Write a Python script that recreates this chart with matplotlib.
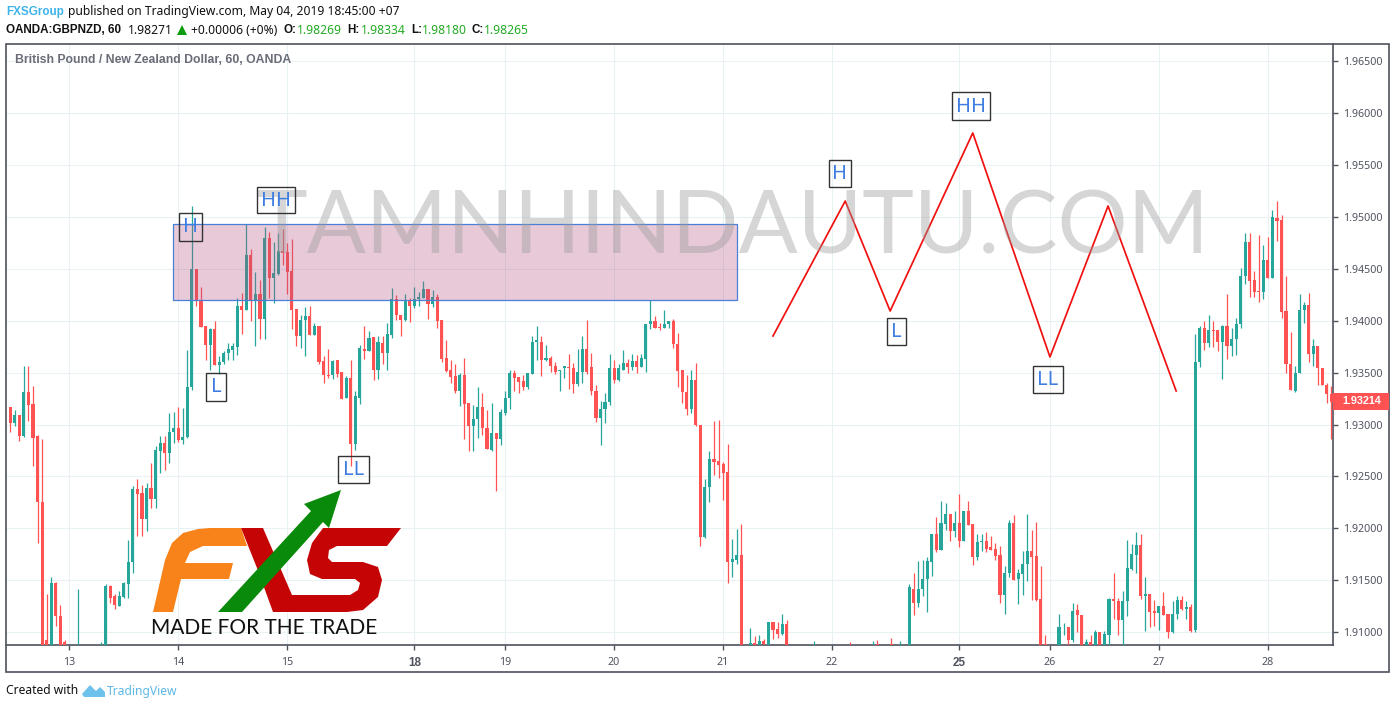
import numpy as np
import matplotlib
matplotlib.use("Agg")
import matplotlib.pyplot as plt
from matplotlib.patches import Polygon, Rectangle

N = float("nan")

# hourly candles in 1e-4 price units, NaN = bar sits under the visible range
opens = [
    19317, 19301, 19309, 19289, 19331, 19320, 19289, 19225, 19092, 19085,
    19147, 19115, 19090, N, N, 19080, N, N, N, N,
    19080, 19080, 19144, 19135, 19125, 19134, 19146, 19167, 19238, 19234,
    19209, 19239, 19228, 19274, 19282, 19273, 19293, 19297, 19285, 19288,
    19336, 19450, 19420, 19395, 19377, 19392, 19357, 19360, 19369, 19372,
    19375, 19414, 19410, 19463, 19419, 19426, 19402, 19480, 19441, 19445,
    19467, 19466, 19448, 19411, 19385, 19401, 19405, 19386, 19395, 19361,
    19348, 19348, 19362, 19351, 19326, 19345, 19281, 19326, 19373, 19371,
    19384, 19353, 19379, 19369, 19386, 19421, 19406, 19401, 19419, 19414,
    19421, 19422, 19431, 19416, 19423, 19401, 19364, 19353, 19347, 19332,
    19348, 19321, 19299, 19305, 19317, 19297, 19275, 19292, 19286, 19311,
    19326, 19350, 19346, 19342, 19336, 19349, 19380, 19380, 19362, 19364,
    19356, 19352, 19354, 19355, 19354, 19339, 19351, 19373, 19355, 19332,
    19306, 19315, 19322, 19354, 19343, 19353, 19359, 19355, 19361, 19355,
    19363, 19397, 19400, 19394, 19393, 19397, 19400, 19378, 19353, 19331,
    19315, 19343, 19300, 19192, 19240, 19267, 19265, 19262, 19254, 19167,
    19169, 19174, N, 19080, 19089, 19085, 19091, 19086, 19110, 19103,
    19098, 19108, N, N, N, N, N, 19080, N, N,
    N, N, N, N, N, 19085, N, N, N, N,
    19080, 19088, N, N, 19088, N, 19080, N, 19085, 19141,
    19128, 19141, 19151, 19167, 19194, 19179, 19204, 19214, 19197, 19205,
    19188, 19217, 19204, 19172, 19187, 19188, 19182, 19180, 19174, 19136,
    19157, 19205, 19151, 19156, 19166, 19178, 19173, 19132, 19088, N,
    N, 19080, 19105, 19105, 19092, 19121, 19116, 19085, 19090, 19082,
    19100, 19082, 19097, 19132, 19130, 19112, 19130, 19161, 19174, 19184,
    19135, 19137, 19120, 19118, 19125, 19117, 19100, 19117, 19131, 19122,
    19124, 19102, 19360, 19393, 19379, 19391, 19391, 19380, 19395, 19376,
    19382, 19397, 19443, 19476, 19439, 19429, 19428, 19459, 19441, 19499,
    19497, 19409, 19358, 19332, 19350, 19410, 19415, 19368, 19376, 19354,
    19338, 19329,
]
highs = [
    19317, 19314, 19309, 19356, 19356, 19337, 19290, 19286, 19137, 19153,
    19148, 19126, 19092, N, N, 19141, N, N, N, N,
    19090, 19146, 19145, 19137, 19140, 19148, 19189, 19241, 19247, 19242,
    19244, 19263, 19279, 19289, 19289, 19311, 19312, 19317, 19316, 19372,
    19511, 19450, 19433, 19395, 19393, 19400, 19366, 19371, 19379, 19379,
    19422, 19427, 19493, 19469, 19447, 19439, 19490, 19486, 19476, 19485,
    19488, 19475, 19479, 19411, 19406, 19413, 19414, 19398, 19395, 19366,
    19373, 19362, 19362, 19351, 19347, 19362, 19332, 19377, 19395, 19390,
    19384, 19385, 19385, 19398, 19432, 19425, 19406, 19426, 19422, 19433,
    19428, 19438, 19431, 19430, 19426, 19401, 19381, 19362, 19358, 19350,
    19364, 19321, 19319, 19336, 19330, 19314, 19321, 19292, 19315, 19332,
    19353, 19353, 19346, 19348, 19350, 19385, 19395, 19385, 19377, 19366,
    19360, 19353, 19356, 19368, 19359, 19373, 19385, 19401, 19369, 19338,
    19323, 19330, 19368, 19362, 19358, 19372, 19363, 19368, 19367, 19368,
    19397, 19420, 19405, 19398, 19410, 19400, 19402, 19388, 19353, 19348,
    19353, 19359, 19300, 19247, 19274, 19303, 19304, 19264, 19281, 19190,
    19199, 19204, N, 19104, 19096, 19097, 19093, 19110, 19110, 19110,
    19117, 19112, N, N, N, N, N, 19091, N, N,
    N, N, N, N, N, 19090, N, N, N, N,
    19091, 19092, N, N, 19094, N, 19091, N, 19146, 19157,
    19168, 19169, 19172, 19194, 19211, 19226, 19224, 19214, 19217, 19233,
    19217, 19226, 19204, 19194, 19194, 19196, 19193, 19186, 19183, 19164,
    19208, 19213, 19161, 19178, 19214, 19198, 19206, 19164, 19097, N,
    N, 19117, 19109, 19105, 19128, 19127, 19116, 19093, 19097, 19102,
    19100, 19101, 19133, 19157, 19133, 19140, 19189, 19185, 19196, 19194,
    19153, 19137, 19131, 19125, 19139, 19117, 19130, 19135, 19135, 19130,
    19127, 19387, 19395, 19400, 19406, 19400, 19391, 19396, 19426, 19393,
    19403, 19451, 19485, 19485, 19448, 19483, 19473, 19481, 19507, 19515,
    19502, 19443, 19389, 19356, 19426, 19418, 19427, 19382, 19376, 19354,
    19340, 19337,
]
lows = [
    19293, 19299, 19284, 19288, 19303, 19260, 19186, 19080, 19080, 19080,
    19106, 19080, 19080, N, N, 19070, N, N, N, N,
    19075, 19070, 19128, 19122, 19125, 19133, 19133, 19157, 19193, 19193,
    19197, 19220, 19220, 19253, 19256, 19263, 19282, 19283, 19281, 19287,
    19333, 19414, 19394, 19362, 19353, 19357, 19349, 19358, 19362, 19362,
    19367, 19387, 19410, 19400, 19376, 19382, 19382, 19422, 19417, 19444,
    19454, 19426, 19392, 19376, 19374, 19366, 19386, 19386, 19358, 19340,
    19345, 19344, 19346, 19325, 19326, 19260, 19275, 19320, 19363, 19371,
    19343, 19344, 19358, 19353, 19383, 19401, 19385, 19400, 19399, 19412,
    19414, 19422, 19402, 19413, 19393, 19360, 19351, 19340, 19330, 19318,
    19286, 19274, 19274, 19287, 19290, 19276, 19274, 19236, 19280, 19309,
    19315, 19332, 19330, 19333, 19334, 19349, 19362, 19347, 19361, 19351,
    19349, 19332, 19345, 19334, 19330, 19337, 19340, 19349, 19328, 19302,
    19280, 19301, 19319, 19340, 19342, 19353, 19350, 19353, 19350, 19355,
    19351, 19392, 19393, 19391, 19393, 19393, 19374, 19336, 19321, 19309,
    19311, 19299, 19183, 19191, 19225, 19251, 19248, 19227, 19147, 19153,
    19166, 19050, N, 19075, 19075, 19080, 19085, 19080, 19093, 19094,
    19097, 19075, N, N, N, N, N, 19075, N, N,
    N, N, N, N, N, 19075, N, N, N, N,
    19075, 19075, N, N, 19075, N, 19075, N, 19080, 19116,
    19124, 19135, 19119, 19154, 19177, 19179, 19198, 19188, 19192, 19182,
    19188, 19203, 19165, 19169, 19178, 19177, 19179, 19169, 19128, 19117,
    19153, 19150, 19127, 19136, 19149, 19131, 19130, 19075, 19075, N,
    N, 19075, 19097, 19085, 19090, 19100, 19075, 19085, 19075, 19080,
    19075, 19080, 19085, 19113, 19097, 19085, 19115, 19160, 19157, 19132,
    19101, 19105, 19106, 19102, 19116, 19094, 19099, 19113, 19121, 19113,
    19100, 19100, 19355, 19372, 19375, 19375, 19371, 19344, 19363, 19366,
    19367, 19393, 19435, 19423, 19423, 19418, 19421, 19441, 19441, 19477,
    19403, 19350, 19333, 19331, 19350, 19398, 19360, 19356, 19338, 19338,
    19321, 19286,
]
closes = [
    19301, 19309, 19289, 19331, 19319, 19287, 19225, 19085, 19085, 19147,
    19115, 19085, 19085, N, N, 19085, N, N, N, N,
    19085, 19144, 19133, 19126, 19135, 19147, 19167, 19238, 19233, 19209,
    19239, 19228, 19275, 19282, 19273, 19293, 19297, 19285, 19288, 19336,
    19450, 19419, 19394, 19377, 19392, 19357, 19360, 19369, 19373, 19376,
    19414, 19410, 19463, 19419, 19426, 19402, 19480, 19441, 19446, 19467,
    19465, 19447, 19410, 19385, 19401, 19405, 19386, 19395, 19360, 19348,
    19347, 19361, 19349, 19325, 19345, 19281, 19327, 19374, 19371, 19383,
    19353, 19380, 19369, 19387, 19421, 19406, 19401, 19419, 19414, 19421,
    19423, 19431, 19416, 19423, 19400, 19363, 19352, 19346, 19332, 19348,
    19320, 19299, 19305, 19317, 19297, 19276, 19292, 19286, 19312, 19326,
    19350, 19345, 19341, 19336, 19350, 19380, 19381, 19362, 19364, 19356,
    19351, 19353, 19356, 19354, 19339, 19351, 19373, 19351, 19332, 19306,
    19315, 19322, 19354, 19343, 19354, 19359, 19355, 19361, 19355, 19364,
    19397, 19400, 19393, 19393, 19397, 19400, 19378, 19352, 19331, 19315,
    19343, 19300, 19192, 19240, 19267, 19264, 19261, 19253, 19167, 19170,
    19174, 19060, N, 19089, 19080, 19091, 19088, 19110, 19102, 19098,
    19108, 19080, N, N, N, N, N, 19085, N, N,
    N, N, N, N, N, 19080, N, N, N, N,
    19085, 19082, N, N, 19082, N, 19085, N, 19143, 19128,
    19141, 19151, 19168, 19194, 19179, 19205, 19214, 19197, 19205, 19188,
    19217, 19203, 19172, 19187, 19188, 19180, 19179, 19173, 19136, 19157,
    19205, 19150, 19157, 19166, 19178, 19172, 19131, 19082, 19082, N,
    N, 19105, 19105, 19092, 19120, 19116, 19080, 19090, 19080, 19100,
    19082, 19098, 19132, 19130, 19112, 19130, 19162, 19175, 19184, 19135,
    19137, 19119, 19118, 19125, 19116, 19100, 19117, 19131, 19122, 19124,
    19101, 19360, 19393, 19379, 19391, 19390, 19380, 19395, 19376, 19382,
    19397, 19443, 19476, 19438, 19428, 19428, 19459, 19441, 19500, 19496,
    19408, 19358, 19333, 19350, 19410, 19415, 19368, 19376, 19354, 19338,
    19329, 19322,
]

day_bars = [13, 37, 61, 89, 109, 133, 157, 181, 209, 229, 253, 277]
day_labels = ["13", "14", "15", "18", "19", "20", "21", "22", "25", "26", "27", "28"]
week_starts = ["18", "25"]
price_ticks = [1.91, 1.915, 1.92, 1.925, 1.93, 1.935, 1.94, 1.945, 1.95, 1.955, 1.96, 1.965]
last_price = 1.93214

# zone and hand-drawn zigzag on the chart
zone_bars = [35.8, 160.1]
zone_prices = [1.9420, 1.94933]
zigzag_bars = [168.0, 183.9, 193.8, 212.0, 229.0, 241.8, 256.8]
zigzag_prices = [1.93853, 1.95154, 1.94094, 1.9581, 1.93651, 1.95106, 1.93323]

W, H = 1396, 709
UP = "#26a69a"
DOWN = "#ff5252"
GRID = "#e8f2f5"
FRAME = "#4f525c"
TICK_TEXT = "#50535e"
LABEL_BLUE = "#3f7de0"
BODY_FONT = "Noto Sans"
BOLD_FONT = "Liberation Sans"

fig = plt.figure(figsize=(W / 100, H / 100), dpi=100, facecolor="white")
ax = fig.add_axes([6 / W, 1 - 645 / H, (1333 - 6) / W, (645 - 44) / H])

o = np.array(opens) / 10000
h = np.array(highs) / 10000
l = np.array(lows) / 10000
c = np.array(closes) / 10000
x = np.arange(len(o))
colors = np.where(c >= o, UP, DOWN)

ax.vlines(x, l, h, colors=colors, lw=0.9, zorder=3)
ax.bar(x, np.abs(c - o), bottom=np.minimum(o, c), width=0.68, color=colors, lw=0, zorder=3)

ax.set_xlim((6 - 10.3) / 4.54, (1333 - 10.3) / 4.54)
ax.set_ylim(1.95 - (645 - 217) / 10375, 1.95 + (217 - 44) / 10375)
ax.set_xticks(day_bars)
ax.set_xticklabels(day_labels)
ax.set_yticks(price_ticks)
ax.set_yticklabels([f"{p:.5f}" for p in price_ticks])
ax.yaxis.tick_right()
ax.grid(True, color=GRID, lw=0.75, zorder=0)
ax.set_axisbelow(True)
ax.tick_params(axis="both", color=FRAME, length=3.5, width=1, labelcolor=TICK_TEXT, labelsize=7.7, pad=3.5)
ax.tick_params(axis="x", pad=5)
for lab in ax.get_xticklabels():
    lab.set_family(BODY_FONT)
    if lab.get_text() in week_starts:
        lab.set_family(BOLD_FONT)
        lab.set_fontweight("bold")
        lab.set_fontsize(8.4)
for lab in ax.get_yticklabels():
    lab.set_family(BODY_FONT)
for side in ["top", "left"]:
    ax.spines[side].set_visible(False)
for side in ["right", "bottom"]:
    ax.spines[side].set_color(FRAME)
    ax.spines[side].set_linewidth(1.2)

zone_w = zone_bars[1] - zone_bars[0]
zone_h = zone_prices[1] - zone_prices[0]
ax.add_patch(Rectangle((zone_bars[0], zone_prices[0]), zone_w, zone_h, facecolor="#b24f7f", alpha=0.3, lw=0, zorder=4))
ax.add_patch(Rectangle((zone_bars[0], zone_prices[0]), zone_w, zone_h, fill=False, edgecolor="#4a7fd8", lw=0.9, zorder=4))
ax.plot(zigzag_bars, zigzag_prices, color="#f01010", lw=1.25, zorder=5)

# everything else lives in picture pixels
ov = fig.add_axes([0, 0, 1, 1], zorder=5)
ov.set_xlim(0, W)
ov.set_ylim(H, 0)
ov.axis("off")
ov.patch.set_alpha(0)

ov.add_patch(Rectangle((6, 44), 1383, 628, fill=False, edgecolor=FRAME, lw=1.2))
ov.add_patch(Rectangle((1333, 393), 56, 17, facecolor=DOWN, lw=0, zorder=1))
ov.text(1342, 401.5, f"{last_price:.5f}", color="white", fontsize=7.8, fontweight="bold",
        family=BOLD_FONT, va="center", ha="left", zorder=2)

ov.text(733, 229, "TAMNHINDAUTU.COM", color="#9a9a9a", alpha=0.4, fontsize=63, family="Lato",
        va="center", ha="center", zorder=1)

ov.text(15, 60, "British Pound / New Zealand Dollar, 60, OANDA", color="#6a6d78", fontsize=8.85,
        fontweight="bold", family=BOLD_FONT, va="center")

pattern_labels = [
    ("H", 179, 213, 23, 28), ("HH", 257, 187, 38, 26), ("L", 206, 373, 20, 28), ("LL", 338, 456, 31, 27),
    ("H", 829, 160, 22, 27), ("HH", 952, 92, 38, 28), ("L", 887, 318, 19, 27), ("LL", 1033, 366, 30, 27),
]
for text, left, top, bw, bh in pattern_labels:
    ov.add_patch(Rectangle((left, top), bw, bh, fill=False, edgecolor="#333333", lw=1, zorder=3))
    ov.text(left + bw / 2, top + bh / 2 + 0.5, text, color=LABEL_BLUE, fontsize=14.5, family=BODY_FONT,
            va="center", ha="center", zorder=3)


# header lines
def put(px, py, text, color="#111111", weight="normal"):
    family = BOLD_FONT if weight == "bold" else BODY_FONT
    size = 8.4 if weight == "bold" else 8.7
    ov.text(px, py, text, color=color, fontweight=weight, fontsize=size, family=family, va="center", ha="left")


GREEN = "#22ab22"
put(6, 12, "FXSGroup", color="#3fb4ea", weight="bold")
put(68, 12, "published on TradingView.com, May 04, 2019 18:45:00 +07")
put(6, 30, "OANDA:GBPNZD, 60", weight="bold")
put(128, 30, "1.98271")
ov.add_patch(Polygon([(177, 35), (187, 35), (182, 25)], color="#0d9c0d", lw=0))
put(191, 30, "+0.00006 (+0%)")
for left, name, left_val, val in [(283, "O:", 297, "1.98269"), (347, "H:", 361, "1.98334"),
                                  (411, "L:", 422, "1.98180"), (472, "C:", 484, "1.98265")]:
    put(left, 30, name, weight="bold")
    put(left_val, 30, val, color=GREEN)

# footer
put(6, 691, "Created with")
ov.add_patch(Polygon([(82, 694), (90, 685), (96, 691), (100, 687), (105, 692), (105, 697), (84, 697)],
                     color="#6ec1ea", lw=0))
put(107, 691, "TradingView", color="#5cb8e8")

# FXS logo
orange = [(153, 612), (173, 612), (181, 579), (229, 579), (233, 563), (185, 563), (190, 552), (203, 546),
          (247, 546), (241, 528), (210, 528), (198, 529), (183, 533), (172, 543), (165, 560)]
red = [(241, 528), (263, 528), (292, 595), (350, 595), (358, 590), (360, 583), (355, 579), (322, 579),
       (310, 574), (307, 560), (312, 543), (323, 528), (401, 528), (387, 546), (337, 546), (329, 550),
       (328, 558), (332, 562), (363, 562), (378, 567), (382, 580), (378, 597), (363, 610), (347, 612),
       (273, 612), (257, 568)]
green = [(218, 612), (242, 612), (323, 522), (329, 528), (341, 490), (304, 504), (311, 511)]
ov.add_patch(Polygon(orange, closed=True, color="#f8831a", lw=0, zorder=4))
ov.add_patch(Polygon(red, closed=True, color="#c50505", lw=0, zorder=4))
ov.add_patch(Polygon(green, closed=True, color="#0a8a0a", lw=0, zorder=5))
ov.text(151, 628, "MADE FOR THE TRADE", color="#111111", fontsize=15, family="Lato", va="center", ha="left", zorder=5)

fig.savefig("out.png", dpi=100, facecolor="white")
